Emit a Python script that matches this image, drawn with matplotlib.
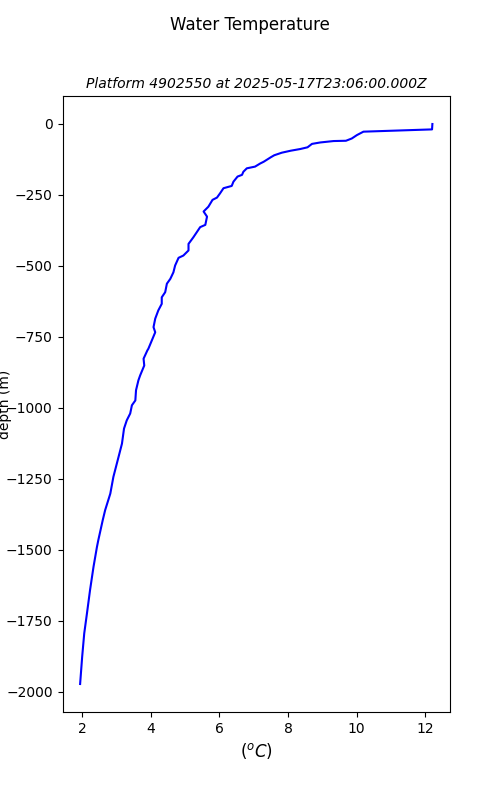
import matplotlib
matplotlib.use("Agg")
import matplotlib.pyplot as plt

# profile (temperature in degC, depth in m)
temperature = [12.21, 12.20, 10.20, 10.01, 9.86, 9.69, 9.33, 8.94, 8.70, 8.57,
               8.36, 8.08, 7.82, 7.60, 7.50, 7.29, 7.19, 7.04, 6.80, 6.70,
               6.66, 6.53, 6.41, 6.36, 6.12, 6.02, 5.93, 5.80, 5.68, 5.54,
               5.64, 5.59, 5.44, 5.24, 5.10, 5.10, 4.95, 4.81, 4.71, 4.66,
               4.57, 4.47, 4.42, 4.32, 4.32, 4.22, 4.13, 4.08, 4.13, 4.03,
               3.93, 3.90, 3.79, 3.81, 3.69, 3.64, 3.57, 3.55, 3.45, 3.40,
               3.30, 3.22, 3.16, 3.06, 2.91, 2.82, 2.67, 2.60, 2.47, 2.43,
               2.33, 2.23, 2.14, 2.06, 2.00, 1.94]
depth = [-1, -20, -28, -40, -52, -60, -61, -66, -71, -83,
         -89, -95, -102, -111, -118, -134, -140, -151, -157, -169,
         -180, -186, -204, -219, -227, -245, -260, -268, -292, -309,
         -327, -356, -364, -400, -423, -446, -464, -472, -499, -523,
         -546, -563, -593, -611, -634, -657, -686, -716, -734, -763,
         -792, -798, -827, -851, -886, -903, -938, -974, -991, -1020,
         -1044, -1073, -1126, -1173, -1243, -1302, -1360, -1395, -1466, -1490,
         -1560, -1641, -1723, -1794, -1876, -1972]

platform = "4902550"
timestamp = "2025-05-17T23:06:00.000Z"

fig, ax = plt.subplots(figsize=(5, 8), dpi=100)
fig.suptitle("Water Temperature")
ax.plot(temperature, depth, color="blue", linewidth=1.5)
ax.set_title("Platform " + platform + " at " + timestamp, fontsize=10, style="italic")
ax.set_xlabel("$(^oC)$", fontsize=12)
ax.set_ylabel("depth (m)")
ax.yaxis.set_label_coords(-0.13, 0.5)

plt.savefig("out.png")
